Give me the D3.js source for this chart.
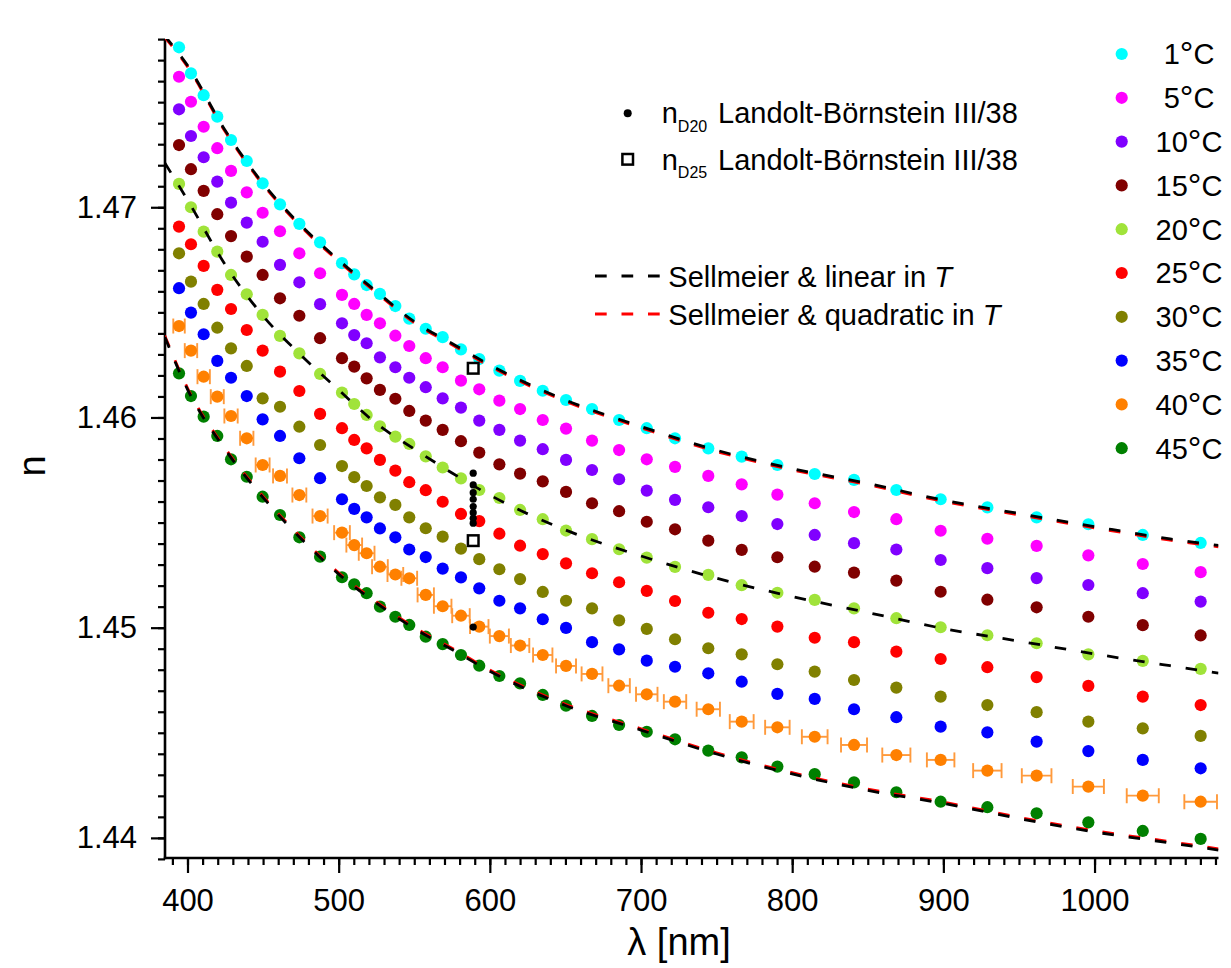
<!DOCTYPE html>
<html><head><meta charset="utf-8">
<script src="https://cdn.jsdelivr.net/npm/d3@7"></script>
<style>
body{margin:0;background:#fff;}
svg{display:block;font-family:"Liberation Sans",Arial,sans-serif;}
</style></head><body>
<svg id="chart" width="1231" height="968"></svg>
<script>
// ---------- data ----------
const wavelength = [394.4, 402.3, 410.7, 419.7, 428.8, 439.2, 449.7, 461.2, 474.0, 487.7,
  502.2, 510.3, 518.5, 527.3, 537.5, 546.7, 557.6, 568.8, 580.9, 593.0,
  606.3, 620.0, 635.0, 650.4, 667.6, 685.5, 703.8, 722.5, 744.5, 766.6,
  790.2, 814.9, 840.9, 868.9, 898.2, 929.1, 961.7, 995.9, 1031.9, 1070.2];

const temperatures = [1, 5, 10, 15, 20, 25, 30, 35, 40, 45];
const colors = ["#00ffff", "#ff00ff", "#8000ff", "#800000", "#a0e33a", "#ff0000", "#808000", "#0000ff", "#ff8000", "#008000"];

const n01 = [1.47761, 1.47637, 1.47533, 1.47431, 1.47320, 1.47220, 1.47114, 1.47014, 1.46921, 1.46833, 1.46734, 1.46681, 1.46630, 1.46588, 1.46530, 1.46470, 1.46422, 1.46382, 1.46324, 1.46278, 1.46223, 1.46174, 1.46127, 1.46083, 1.46040, 1.45988, 1.45949, 1.45901, 1.45853, 1.45814, 1.45774, 1.45731, 1.45703, 1.45655, 1.45611, 1.45572, 1.45525, 1.45492, 1.45441, 1.45403];
const n05 = [1.47621, 1.47502, 1.47383, 1.47281, 1.47173, 1.47071, 1.46974, 1.46886, 1.46781, 1.46686, 1.46583, 1.46540, 1.46488, 1.46448, 1.46389, 1.46340, 1.46282, 1.46239, 1.46175, 1.46134, 1.46080, 1.46040, 1.45988, 1.45947, 1.45890, 1.45845, 1.45801, 1.45765, 1.45722, 1.45682, 1.45633, 1.45592, 1.45550, 1.45516, 1.45461, 1.45423, 1.45389, 1.45344, 1.45303, 1.45264];
const n10 = [1.47466, 1.47339, 1.47238, 1.47122, 1.47022, 1.46927, 1.46836, 1.46726, 1.46643, 1.46539, 1.46448, 1.46392, 1.46353, 1.46286, 1.46239, 1.46189, 1.46144, 1.46091, 1.46047, 1.45985, 1.45941, 1.45890, 1.45849, 1.45798, 1.45750, 1.45706, 1.45652, 1.45608, 1.45573, 1.45531, 1.45493, 1.45441, 1.45402, 1.45372, 1.45322, 1.45283, 1.45236, 1.45203, 1.45164, 1.45124];
const n15 = [1.47296, 1.47181, 1.47078, 1.46967, 1.46863, 1.46765, 1.46678, 1.46567, 1.46484, 1.46377, 1.46282, 1.46242, 1.46186, 1.46131, 1.46089, 1.46031, 1.45985, 1.45941, 1.45887, 1.45833, 1.45777, 1.45733, 1.45696, 1.45646, 1.45592, 1.45554, 1.45504, 1.45468, 1.45414, 1.45370, 1.45335, 1.45290, 1.45262, 1.45224, 1.45171, 1.45133, 1.45097, 1.45052, 1.45012, 1.44963];
const n20 = [1.47111, 1.47000, 1.46884, 1.46789, 1.46678, 1.46586, 1.46488, 1.46388, 1.46305, 1.46207, 1.46118, 1.46064, 1.46012, 1.45958, 1.45909, 1.45874, 1.45815, 1.45762, 1.45710, 1.45655, 1.45617, 1.45560, 1.45516, 1.45462, 1.45421, 1.45373, 1.45333, 1.45289, 1.45251, 1.45202, 1.45166, 1.45132, 1.45092, 1.45045, 1.45002, 1.44964, 1.44926, 1.44873, 1.44842, 1.44804];
const n25 = [1.46908, 1.46824, 1.46721, 1.46607, 1.46516, 1.46416, 1.46318, 1.46218, 1.46126, 1.46017, 1.45949, 1.45893, 1.45853, 1.45798, 1.45747, 1.45692, 1.45654, 1.45599, 1.45541, 1.45507, 1.45447, 1.45390, 1.45350, 1.45306, 1.45259, 1.45216, 1.45175, 1.45127, 1.45071, 1.45041, 1.45005, 1.44952, 1.44931, 1.44886, 1.44851, 1.44812, 1.44765, 1.44723, 1.44672, 1.44632];
const n30 = [1.46781, 1.46646, 1.46540, 1.46427, 1.46329, 1.46245, 1.46091, 1.46051, 1.45956, 1.45869, 1.45769, 1.45716, 1.45674, 1.45620, 1.45584, 1.45525, 1.45473, 1.45433, 1.45376, 1.45326, 1.45278, 1.45231, 1.45170, 1.45128, 1.45092, 1.45035, 1.44994, 1.44945, 1.44902, 1.44873, 1.44826, 1.44791, 1.44751, 1.44715, 1.44672, 1.44632, 1.44598, 1.44553, 1.44521, 1.44485];
const n35 = [1.46615, 1.46499, 1.46396, 1.46269, 1.46189, 1.46102, 1.45991, 1.45912, 1.45806, 1.45711, 1.45611, 1.45565, 1.45525, 1.45472, 1.45430, 1.45372, 1.45336, 1.45281, 1.45239, 1.45187, 1.45128, 1.45092, 1.45040, 1.44999, 1.44931, 1.44897, 1.44843, 1.44814, 1.44783, 1.44743, 1.44685, 1.44661, 1.44612, 1.44574, 1.44529, 1.44502, 1.44458, 1.44413, 1.44371, 1.44331];
const n40 = [1.46435, 1.46318, 1.46194, 1.46099, 1.46007, 1.45901, 1.45774, 1.45722, 1.45631, 1.45531, 1.45452, 1.45393, 1.45354, 1.45290, 1.45253, 1.45235, 1.45156, 1.45102, 1.45057, 1.45005, 1.44960, 1.44915, 1.44870, 1.44818, 1.44780, 1.44724, 1.44683, 1.44648, 1.44612, 1.44553, 1.44526, 1.44481, 1.44442, 1.44394, 1.44371, 1.44320, 1.44296, 1.44244, 1.44201, 1.44172];
const n45 = [1.46210, 1.46102, 1.46004, 1.45912, 1.45801, 1.45718, 1.45623, 1.45536, 1.45430, 1.45338, 1.45240, 1.45206, 1.45164, 1.45100, 1.45052, 1.45013, 1.44957, 1.44922, 1.44870, 1.44819, 1.44770, 1.44735, 1.44680, 1.44629, 1.44580, 1.44537, 1.44505, 1.44469, 1.44415, 1.44383, 1.44339, 1.44303, 1.44264, 1.44217, 1.44172, 1.44146, 1.44117, 1.44074, 1.44033, 1.43995];

// horizontal (wavelength) error of the 40 °C series, nm
const err40 = [3.8, 4.1, 4.1, 4.3, 4.4, 4.4, 4.6, 4.6, 4.6, 5.0, 5.2, 5.2, 5.2, 5.2, 5.2, 5.2, 5.4, 5.8, 5.8, 6.1, 6.3, 6.1, 6.4, 6.6, 6.9, 7.1, 7.1, 7.4, 7.7, 7.9, 8.1, 8.5, 8.6, 9.3, 9.1, 9.4, 9.8, 10.3, 10.6, 10.8];

// Landolt-Börnstein reference values at the sodium D line
const lineD = 589;
const nD20 = [1.45735, 1.45679, 1.45642, 1.45611, 1.45576, 1.45547, 1.45520, 1.45497, 1.45003];
const nD25 = [1.46234, 1.45414];

// fitted model curves
const fitWl  = [385, 400, 425, 450, 475, 500, 525, 550, 575, 600, 650, 700, 750, 800, 850, 900, 950, 1000, 1050, 1082];
const lin01  = [1.47815, 1.47675, 1.47365, 1.47113, 1.46914, 1.46749, 1.46599, 1.46456, 1.46352, 1.46250, 1.46083, 1.45957, 1.45844, 1.45757, 1.45686, 1.45607, 1.45543, 1.45481, 1.45422, 1.45391];
const quad01 = [1.47809, 1.47669, 1.47359, 1.47107, 1.46908, 1.46743, 1.46593, 1.46450, 1.46346, 1.46244, 1.46077, 1.45951, 1.45838, 1.45751, 1.45680, 1.45601, 1.45537, 1.45475, 1.45416, 1.45385];
const lin20  = [1.47211, 1.47035, 1.46726, 1.46483, 1.46297, 1.46131, 1.45971, 1.45850, 1.45736, 1.45631, 1.45465, 1.45341, 1.45235, 1.45148, 1.45072, 1.44996, 1.44936, 1.44875, 1.44819, 1.44784];
const lin45  = [1.46383, 1.46134, 1.45847, 1.45619, 1.45424, 1.45255, 1.45117, 1.44996, 1.44896, 1.44793, 1.44630, 1.44513, 1.44399, 1.44304, 1.44226, 1.44164, 1.44092, 1.44028, 1.43976, 1.43942];
const quad45 = [1.46389, 1.46140, 1.45853, 1.45625, 1.45430, 1.45261, 1.45123, 1.45002, 1.44902, 1.44799, 1.44636, 1.44519, 1.44405, 1.44310, 1.44232, 1.44170, 1.44098, 1.44034, 1.43982, 1.43948];

const xMajor = [400, 500, 600, 700, 800, 900, 1000];
const yMajor = [1.44, 1.45, 1.46, 1.47];

const seriesValues = [n01, n05, n10, n15, n20, n25, n30, n35, n40, n45];

// ---------- layout ----------
const svg = d3.select("#chart");
const L = 165, R = 1218.5, T = 39, B = 858;
const x = d3.scaleLinear().domain([385.12, 1082]).range([L, R]);
const y = d3.scaleLinear().domain([1.439, 1.478]).range([858.9, 39.1]);
const DOT = 6.1;

svg.append("defs").append("clipPath").attr("id", "clip")
  .append("rect").attr("x", L).attr("y", T).attr("width", R - L).attr("height", B - T);

// ---------- axes ----------
const xMinor = d3.range(39, 109).map(i => i * 10);
const yMinor = d3.range(0, 40).map(i => +(1.439 + i * 0.001).toFixed(3));

function styleAxis(g, fs) {
  g.select(".domain").remove();
  g.selectAll(".tick line").attr("stroke", "#000").attr("stroke-width", 2.2);
  g.selectAll(".tick text").attr("fill", "#000").style("font-size", fs + "px")
    .style("font-family", '"Liberation Sans", Arial, sans-serif');
}
svg.append("g").attr("transform", `translate(0,${B})`)
  .call(d3.axisBottom(x).tickValues(xMinor).tickSize(7).tickFormat(""))
  .call(g => styleAxis(g, 31));
svg.append("g").attr("transform", `translate(0,${B})`)
  .call(d3.axisBottom(x).tickValues(xMajor).tickSize(15).tickPadding(16).tickFormat(d3.format("d")))
  .call(g => styleAxis(g, 31));
svg.append("g").attr("transform", `translate(${L},0)`)
  .call(d3.axisLeft(y).tickValues(yMinor).tickSize(7).tickFormat(""))
  .call(g => styleAxis(g, 31));
svg.append("g").attr("transform", `translate(${L},0)`)
  .call(d3.axisLeft(y).tickValues(yMajor).tickSize(14).tickPadding(14).tickFormat(d3.format(".2f")))
  .call(g => styleAxis(g, 31));

svg.append("line").attr("x1", L).attr("x2", L).attr("y1", T).attr("y2", B + 1.2)
  .attr("stroke", "#000").attr("stroke-width", 2.6);
svg.append("line").attr("x1", L - 1.2).attr("x2", R).attr("y1", B).attr("y2", B)
  .attr("stroke", "#000").attr("stroke-width", 2.6);

svg.append("text").attr("x", 679).attr("y", 955).attr("text-anchor", "middle")
  .style("font-size", "38px").text("λ [nm]");
svg.append("text").attr("transform", "translate(45,466) rotate(-90)").attr("text-anchor", "middle")
  .style("font-size", "38px").text("n");

// ---------- plot ----------
const plot = svg.append("g").attr("clip-path", "url(#clip)");

// error bars for 40 °C
const eb = plot.append("g").attr("stroke", "#ff9a3c").attr("stroke-width", 1.9).attr("fill", "none");
wavelength.forEach((w, i) => {
  const yy = y(n40[i]), x0 = x(w - err40[i]), x1 = x(w + err40[i]);
  eb.append("line").attr("x1", x0).attr("x2", x1).attr("y1", yy).attr("y2", yy);
  eb.append("line").attr("x1", x0).attr("x2", x0).attr("y1", yy - 7.5).attr("y2", yy + 7.5);
  eb.append("line").attr("x1", x1).attr("x2", x1).attr("y1", yy - 7.5).attr("y2", yy + 7.5);
});

seriesValues.forEach((vals, si) => {
  plot.append("g").attr("fill", colors[si])
    .selectAll("circle").data(vals).join("circle")
    .attr("cx", (d, i) => x(wavelength[i])).attr("cy", d => y(d)).attr("r", DOT);
});

const lineGen = d3.line().x(d => x(d[0])).y(d => y(d[1])).curve(d3.curveMonotoneX);
const dash = "11.5,15";
[[quad01, "#ff0000"], [quad45, "#ff0000"], [lin01, "#000"], [lin20, "#000"], [lin45, "#000"]].forEach(([vals, c]) => {
  plot.append("path").datum(fitWl.map((w, i) => [w, vals[i]]))
    .attr("d", lineGen).attr("fill", "none").attr("stroke", c)
    .attr("stroke-width", 2.8).attr("stroke-dasharray", dash);
});

// Landolt-Börnstein reference points
plot.append("g").selectAll("circle").data(nD20).join("circle")
  .attr("cx", x(lineD)).attr("cy", d => y(d)).attr("r", 3.6).attr("fill", "#000");
plot.append("g").selectAll("rect").data(nD25).join("rect")
  .attr("x", x(lineD) - 5.3).attr("y", d => y(d) - 5.3).attr("width", 10.6).attr("height", 10.6)
  .attr("fill", "#fff").attr("stroke", "#000").attr("stroke-width", 2.5);

// ---------- legends ----------
const legR = svg.append("g");
temperatures.forEach((t, i) => {
  const cy = 54 + i * 43.8;
  legR.append("circle").attr("cx", 1121.7).attr("cy", cy).attr("r", DOT).attr("fill", colors[i]);
  const tx = legR.append("text").attr("x", 1189).attr("y", cy + 10.4).attr("text-anchor", "middle")
    .style("font-size", "29px");
  tx.append("tspan").text(String(t));
  tx.append("tspan").style("font-size", "34px").attr("dy", 1).text("\u00B0");
  tx.append("tspan").attr("dy", -1).text("C");
});

const legM = svg.append("g");
legM.append("circle").attr("cx", 627.7).attr("cy", 113.3).attr("r", 4).attr("fill", "#000");
legM.append("rect").attr("x", 627.7 - 5.3).attr("y", 159.3 - 5.3).attr("width", 10.6).attr("height", 10.6)
  .attr("fill", "#fff").attr("stroke", "#000").attr("stroke-width", 2.5);
[["D20", 123.3], ["D25", 170]].forEach(([sub, base]) => {
  const t = legM.append("text").attr("x", 661.7).attr("y", base).style("font-size", "29px");
  t.append("tspan").text("n");
  t.append("tspan").attr("dy", 8.4).style("font-size", "16px").text(sub);
  t.append("tspan").attr("x", 718).attr("dy", -8.4).text("Landolt-Börnstein III/38");
});
[["#000", 276, "Sellmeier & linear in ", 286.7], ["#ff0000", 314, "Sellmeier & quadratic in ", 325]].forEach(([c, ly, label, base]) => {
  legM.append("line").attr("x1", 595).attr("x2", 660).attr("y1", ly).attr("y2", ly)
    .attr("stroke", c).attr("stroke-width", 2.8).attr("stroke-dasharray", "11.7,14.8");
  const t = legM.append("text").attr("x", 668.3).attr("y", base).style("font-size", "29px");
  t.append("tspan").text(label);
  t.append("tspan").style("font-style", "italic").text("T");
});
</script>
</body></html>
